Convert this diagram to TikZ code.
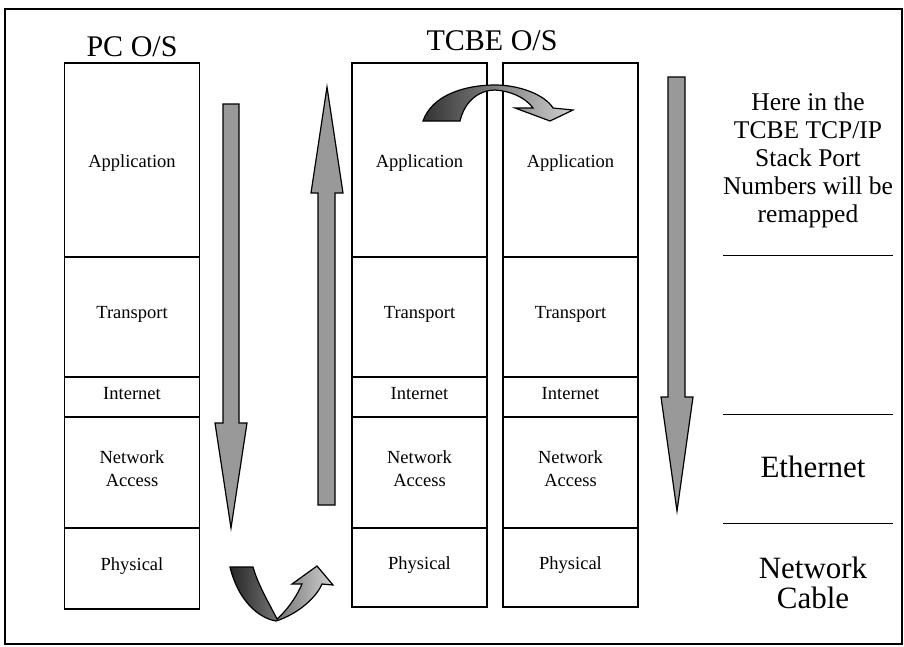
\documentclass[tikz,border=0pt]{standalone}
\usepackage{fontspec}
\setmainfont{Liberation Serif}
\begin{document}
\begin{tikzpicture}[x=1pt,y=-1pt,
  layer/.style={draw, line width=1.2pt, inner sep=0pt, outer sep=0pt, minimum width=135pt, anchor=north},
  lbl/.style={align=center, inner sep=0pt, font=\fontsize{18.5}{23}\selectfont},
  title/.style={font=\fontsize{30}{32}\selectfont},
  side/.style={font=\fontsize{25.5}{28}\selectfont, align=center},
  sidebig/.style={font=\fontsize{31}{30}\selectfont, align=center},
  bigarrow/.style={draw, line width=1.2pt, fill=black!40, line join=miter},
  rule/.style={line width=1pt}]
\useasboundingbox (0,0) rectangle (904,646);
\draw[line width=1.2pt] (5,9) rectangle (902,644);

% titles
\node[title] (pcos) at (132,47) {PC O/S};
\node[title] (tcbeos) at (492,41) {TCBE O/S};

% PC stack
\node[layer, minimum height=194pt] (pa) at (132,63) {};
\node[layer, minimum height=120pt] (pt) at (pa.south) {};
\node[layer, minimum height=40pt]  (pi) at (pt.south) {};
\node[layer, minimum height=111pt] (pn) at (pi.south) {};
\node[layer, minimum height=81pt]  (pp) at (pn.south) {};

% TCBE stack 1
\node[layer, minimum height=194pt] (aa) at (419.5,63) {};
\node[layer, minimum height=120pt] (at) at (aa.south) {};
\node[layer, minimum height=40pt]  (ai) at (at.south) {};
\node[layer, minimum height=111pt] (an) at (ai.south) {};
\node[layer, minimum height=79pt]  (ap) at (an.south) {};

% TCBE stack 2
\node[layer, minimum height=194pt] (ba) at (570.5,63) {};
\node[layer, minimum height=120pt] (bt) at (ba.south) {};
\node[layer, minimum height=40pt]  (bi) at (bt.south) {};
\node[layer, minimum height=111pt] (bn) at (bi.south) {};
\node[layer, minimum height=79pt]  (bp) at (bn.south) {};

% layer labels
\foreach \s in {p,a,b}{
  \node[lbl] (\s la) at ([yshift=-3pt]\s a.center) {Application};
  \node[lbl] (\s lt) at ([yshift=3pt]\s t.center) {Transport};
  \node[lbl] (\s li) at ([yshift=3pt]\s i.center) {Internet};
  \node[lbl] (\s ln) at ([yshift=4pt]\s n.center) {Network\\Access};
  \node[lbl] (\s lp) at ([yshift=2pt]\s p.center) {Physical};
}

% vertical arrows
\draw[bigarrow] (223,104) -- (239,104) -- (239,423) -- (247,423) -- (231,528)
  -- (215,423) -- (223,423) -- cycle;
\draw[bigarrow] (318,505) -- (335,505) -- (335,193) -- (343,193) -- (327,87)
  -- (311,193) -- (318,193) -- cycle;
\draw[bigarrow] (668,77) -- (685,77) -- (685,397) -- (693,397) -- (677,511)
  -- (661,397) -- (668,397) -- cycle;

% top curved arrow
\draw[line width=1.2pt, left color=black!80, right color=black!18, line join=miter]
  (423,121) .. controls (432,95) and (465,85) .. (495,85)
  .. controls (520,85) and (545,95) .. (553,108)
  -- (573,110) -- (550,121) -- (515,108) -- (533,108)
  .. controls (525,97) and (510,91) .. (495,90)
  .. controls (480,90) and (465,100) .. (460,121) -- cycle;

% bottom curved arrow
\draw[line width=1.2pt, left color=black!85, right color=black!18, line join=miter]
  (230,567) .. controls (238,600) and (258,618) .. (276,621)
  .. controls (295,615) and (315,600) .. (322,584)
  -- (333,585) -- (317,566) -- (292,584) -- (302,584)
  .. controls (295,600) and (285,612) .. (277,619)
  .. controls (270,605) and (258,585) .. (253,567) -- cycle;

% right side
\node[side] (note) at (808,160) {Here in the\\TCBE TCP/IP\\Stack Port\\Numbers will be\\remapped};
\coordinate (r1a) at (723,255); \coordinate (r1b) at (893,255);
\coordinate (r2a) at (723,414); \coordinate (r2b) at (893,414);
\coordinate (r3a) at (723,523); \coordinate (r3b) at (893,523);
\draw[rule] (r1a) -- (r1b);
\draw[rule] (r2a) -- (r2b);
\draw[rule] (r3a) -- (r3b);
\node[sidebig] (eth) at (813,467) {Ethernet};
\node[sidebig] (cable) at (813,583) {Network\\Cable};
\end{tikzpicture}
\end{document}
